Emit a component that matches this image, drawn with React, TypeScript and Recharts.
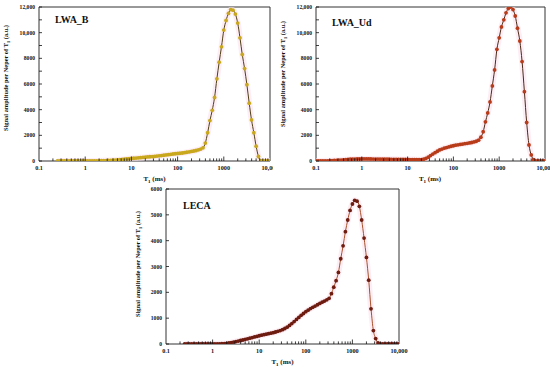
import React from 'react';
import { LineChart, Line, XAxis, YAxis, ReferenceArea } from 'recharts';

// T1 grid (ms), 20 points per decade
const T1_MS = [
  0.1, 0.112, 0.126, 0.141, 0.158, 0.178, 0.2, 0.224, 0.251, 0.282, 0.316, 0.355, 0.398, 0.447, 0.501, 0.562, 0.631, 0.708, 0.794, 0.891,
  1, 1.12, 1.26, 1.41, 1.58, 1.78, 2, 2.24, 2.51, 2.82, 3.16, 3.55, 3.98, 4.47, 5.01, 5.62, 6.31, 7.08, 7.94, 8.91,
  10, 11.2, 12.6, 14.1, 15.8, 17.8, 20, 22.4, 25.1, 28.2, 31.6, 35.5, 39.8, 44.7, 50.1, 56.2, 63.1, 70.8, 79.4, 89.1,
  100, 112, 126, 141, 158, 178, 200, 224, 251, 282, 316, 355, 398, 447, 501, 562, 631, 708, 794, 891,
  1000, 1120, 1260, 1410, 1580, 1780, 2000, 2240, 2510, 2820, 3160, 3550, 3980, 4470, 5010, 5620, 6310, 7080, 7940, 8910,
  10000,
];

const LWA_B = [
  null, null, null, null, null, null, null, null, 0, 0, 0, 0, 0, 0, 0, 0, 0, 0, 0, 0,
  0, 0, 0, 0, 5, 8, 12, 18, 25, 32, 40, 50, 60, 72, 85, 100, 115, 135, 155, 178,
  200, 215, 230, 245, 260, 280, 300, 315, 330, 345, 360, 380, 400, 425, 450, 475, 495, 520, 545, 565,
  585, 605, 625, 650, 680, 710, 745, 780, 820, 870, 930, 1030, 1400, 2200, 3150, 3950, 4950, 6400, 7700, 8900,
  10200, 10950, 11500, 11800, 11750, 11450, 10750, 9600, 8300, 7200, 5950, 4500, 3200, 2200, 1150, 350, 20, 0, 0, 0,
  0,
];

const LWA_UD = [
  0, 0, 0, 5, 10, 15, 20, 30, 40, 50, 60, 75, 90, 105, 120, 135, 145, 150, 155, 160,
  160, 160, 160, 158, 155, 152, 150, 148, 145, 142, 140, 138, 135, 132, 130, 128, 125, 122, 120, 118,
  115, 112, 110, 108, 105, 105, 110, 140, 200, 300, 420, 540, 650, 760, 860, 930, 1000, 1050, 1100, 1150,
  1190, 1230, 1260, 1290, 1320, 1350, 1380, 1410, 1440, 1490, 1540, 1620, 1850, 2280, 3050, 3750, 4600, 5850, 7100, 8700,
  9600, 10450, 11000, 11550, 11880, 12000, 11800, 11300, 10350, 9350, 7750, 5400, 3000, 1250, 470, 100, 0, 0, 0, 0,
  0,
];

const LECA = [
  null, null, null, null, null, null, null, null, 0, 0, 0, 0, 0, 0, 0, 0, 0, 0, 0, 0,
  0, 0, 2, 5, 10, 16, 25, 38, 55, 75, 95, 115, 135, 155, 180, 200, 225, 250, 275, 295,
  320, 340, 360, 380, 400, 420, 440, 465, 490, 520, 555, 600, 650, 720, 790, 870, 950, 1030, 1110, 1180,
  1250, 1310, 1370, 1420, 1470, 1520, 1570, 1620, 1660, 1710, 1770, 1950, 2200, 2450, 2770, 3300, 3800, 4350, 4800, 5170,
  5420, 5560, 5530, 5330, 4800, 4100, 3350, 2470, 1360, 520, 210, 40, 0, 0, 0, 0, 0, 0, 0, 0,
  0,
];

const X_TICKS = [
  0.1, 0.2, 0.3, 0.4, 0.5, 0.6, 0.7, 0.8, 0.9,
  1, 2, 3, 4, 5, 6, 7, 8, 9,
  10, 20, 30, 40, 50, 60, 70, 80, 90,
  100, 200, 300, 400, 500, 600, 700, 800, 900,
  1000, 2000, 3000, 4000, 5000, 6000, 7000, 8000, 9000,
  10000,
];
const DECADES = [0.1, 1, 10, 100, 1000, 10000];
const DECADE_LABELS = ['0.1', '1', '10', '100', '1000', '10,000'];

const Y_TICKS_LWA = [0, 1000, 2000, 3000, 4000, 5000, 6000, 7000, 8000, 9000, 10000, 11000, 12000];
const Y_LABELS_LWA = { 0: '0', 2000: '2000', 4000: '4000', 6000: '6000', 8000: '8000', 10000: '10,000', 12000: '12,000' };
const Y_TICKS_LECA = [0, 1000, 2000, 3000, 4000, 5000, 6000];
const Y_LABELS_LECA = { 0: '0', 1000: '1000', 2000: '2000', 3000: '3000', 4000: '4000', 5000: '5000', 6000: '6000' };

const FONT = '"Liberation Serif", "Times New Roman", serif';

const makeXTick = (bottom: number) => (props: any) => {
  const { x, payload } = props;
  const v = payload.value;
  const idx = DECADES.indexOf(v);
  const major = idx >= 0;
  const edge = v === 0.1 || v === 10000;
  return (
    <g>
      {!edge && (
        <line x1={x} x2={x} y1={bottom} y2={bottom - (major ? 4.5 : 2.6)} stroke="#111" strokeWidth={0.8} />
      )}
      {major && (
        <text x={x} y={bottom + 9} textAnchor="middle" fontSize={6.2} fontWeight="bold" fontFamily={FONT} fill="#111">
          {DECADE_LABELS[idx]}
        </text>
      )}
    </g>
  );
};

const makeYTick = (left: number, labels: Record<number, string>) => (props: any) => {
  const { y, payload } = props;
  const label = labels[payload.value];
  return (
    <g>
      <line x1={left} x2={left + 3} y1={y} y2={y} stroke="#111" strokeWidth={0.8} />
      {label && (
        <text x={left - 4} y={y + 2} textAnchor="end" fontSize={5.6} fontWeight="bold" fontFamily={FONT} fill="#111">
          {label}
        </text>
      )}
    </g>
  );
};

type PanelProps = {
  values: (number | null)[];
  ymax: number;
  yTicks: number[];
  yLabels: Record<number, string>;
  width: number;
  height: number;
  yAxisWidth: number;
  xAxisHeight: number;
  marginRight: number;
  plotBottom: number;
  dotColor: string;
  lineColor: string;
};

function Panel(p: PanelProps) {
  const data = T1_MS.map((t, i) => ({ t, v: p.values[i] })).filter((d) => d.v !== null);
  return (
    <LineChart width={p.width} height={p.height} data={data} margin={{ top: 7, right: p.marginRight, left: 0, bottom: 0 }}>
      <XAxis
        dataKey="t"
        type="number"
        scale="log"
        domain={[0.1, 10000]}
        allowDataOverflow
        ticks={X_TICKS}
        interval={0}
        tick={makeXTick(p.plotBottom)}
        tickLine={false}
        axisLine={false}
        height={p.xAxisHeight}
      />
      <YAxis
        type="number"
        domain={[0, p.ymax]}
        allowDataOverflow
        ticks={p.yTicks}
        interval={0}
        tick={makeYTick(p.yAxisWidth, p.yLabels)}
        tickLine={false}
        axisLine={false}
        width={p.yAxisWidth}
      />
      <Line
        dataKey="v"
        type="monotone"
        stroke="#fbe3ee"
        strokeWidth={6}
        strokeOpacity={0.6}
        dot={false}
        isAnimationActive={false}
      />
      <Line
        dataKey="v"
        type="monotone"
        stroke={p.lineColor}
        strokeWidth={1}
        dot={{ r: 1.9, fill: p.dotColor, stroke: 'none', strokeWidth: 0 }}
        activeDot={false}
        isAnimationActive={false}
      />
      <ReferenceArea x1={0.1} x2={10000} y1={0} y2={p.ymax} fill="none" stroke="#333" strokeWidth={1} ifOverflow="visible" />
    </LineChart>
  );
}

const titleStyle = { fontFamily: FONT, fontWeight: 'bold' as const, fill: '#111' };

function YTitle({ x, y }: { x: number; y: number }) {
  return (
    <text transform={`translate(${x},${y}) rotate(-90)`} textAnchor="middle" fontSize={6.4} {...titleStyle}>
      Signal amplitude per Neper of T<tspan fontSize={4.5} dy={1.5}>1</tspan>
      <tspan dy={-1.5}> (a.u.)</tspan>
    </text>
  );
}

function XTitle({ x, y }: { x: number; y: number }) {
  return (
    <text x={x} y={y} textAnchor="middle" fontSize={7} {...titleStyle}>
      T<tspan fontSize={5} dy={1.5}>1</tspan>
      <tspan dy={-1.5}> (ms)</tspan>
    </text>
  );
}

export default function App() {
  return (
    <div style={{ position: 'absolute', left: 0, top: 0, width: 550, height: 369, background: '#fff', overflow: 'hidden' }}>
      <div style={{ position: 'absolute', left: 0, top: 0 }}>
        <Panel
          values={LWA_B}
          ymax={12000}
          yTicks={Y_TICKS_LWA}
          yLabels={Y_LABELS_LWA}
          width={273}
          height={185}
          yAxisWidth={39}
          xAxisHeight={24}
          marginRight={3}
          plotBottom={161}
          dotColor="#c9a81e"
          lineColor="#4d3f14"
        />
      </div>
      <div style={{ position: 'absolute', left: 276, top: 0 }}>
        <Panel
          values={LWA_UD}
          ymax={12000}
          yTicks={Y_TICKS_LWA}
          yLabels={Y_LABELS_LWA}
          width={274}
          height={185}
          yAxisWidth={40}
          xAxisHeight={24}
          marginRight={5}
          plotBottom={161}
          dotColor="#b83c1a"
          lineColor="#4a2a18"
        />
      </div>
      <div style={{ position: 'absolute', left: 126, top: 182 }}>
        <Panel
          values={LECA}
          ymax={6000}
          yTicks={Y_TICKS_LECA}
          yLabels={Y_LABELS_LECA}
          width={292}
          height={187}
          yAxisWidth={40}
          xAxisHeight={25}
          marginRight={19}
          plotBottom={162}
          dotColor="#6e1c10"
          lineColor="#a8502a"
        />
      </div>
      <svg width={550} height={369} style={{ position: 'absolute', left: 0, top: 0, pointerEvents: 'none' }}>
        <text x={55} y={23} fontSize={10} {...titleStyle}>LWA_B</text>
        <text x={332} y={26} fontSize={10} {...titleStyle}>LWA_Ud</text>
        <text x={183} y={209} fontSize={10} {...titleStyle}>LECA</text>
        <YTitle x={8} y={78} />
        <YTitle x={285} y={74} />
        <YTitle x={140} y={264} />
        <XTitle x={154.5} y={181} />
        <XTitle x={430} y={181} />
        <XTitle x={282.5} y={364} />
      </svg>
    </div>
  );
}
